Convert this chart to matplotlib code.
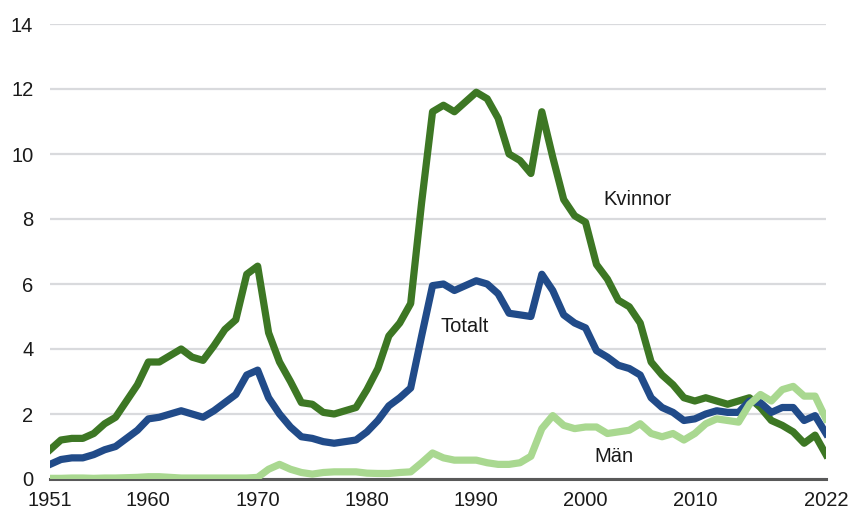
import matplotlib
matplotlib.use('Agg')
import matplotlib.pyplot as plt

# data
years = list(range(1951, 2023))

kvinnor = [0.9, 1.2, 1.25, 1.25, 1.4, 1.7, 1.9, 2.4, 2.9, 3.6,
           3.6, 3.8, 4.0, 3.75, 3.65, 4.1, 4.6, 4.9, 6.3, 6.55,
           4.5, 3.6, 3.0, 2.35, 2.3, 2.05, 2.0, 2.1, 2.2, 2.75,
           3.4, 4.4, 4.8, 5.4, 8.5, 11.3, 11.5, 11.3, 11.6, 11.9,
           11.7, 11.1, 10.0, 9.8, 9.4, 11.3, 9.9, 8.6, 8.1, 7.9,
           6.6, 6.15, 5.5, 5.3, 4.8, 3.6, 3.2, 2.9, 2.5, 2.4,
           2.5, 2.4, 2.3, 2.4, 2.5, 2.2, 1.8, 1.65, 1.45, 1.1,
           1.35, 0.75]

totalt = [0.45, 0.6, 0.65, 0.65, 0.75, 0.9, 1.0, 1.25, 1.5, 1.85,
          1.9, 2.0, 2.1, 2.0, 1.9, 2.1, 2.35, 2.6, 3.2, 3.35,
          2.5, 2.0, 1.6, 1.3, 1.25, 1.15, 1.1, 1.15, 1.2, 1.45,
          1.8, 2.25, 2.5, 2.8, 4.4, 5.95, 6.0, 5.8, 5.95, 6.1,
          6.0, 5.7, 5.1, 5.05, 5.0, 6.3, 5.8, 5.05, 4.8, 4.65,
          3.95, 3.75, 3.5, 3.4, 3.2, 2.5, 2.2, 2.05, 1.8, 1.85,
          2.0, 2.1, 2.05, 2.05, 2.4, 2.35, 2.05, 2.2, 2.2, 1.8,
          1.95, 1.4]

man = [0.02, 0.02, 0.03, 0.03, 0.02, 0.03, 0.03, 0.04, 0.05, 0.07,
       0.07, 0.05, 0.03, 0.03, 0.03, 0.03, 0.03, 0.03, 0.03, 0.05,
       0.3, 0.45, 0.3, 0.2, 0.15, 0.2, 0.22, 0.22, 0.22, 0.18,
       0.17, 0.17, 0.2, 0.22, 0.5, 0.8, 0.65, 0.58, 0.58, 0.58,
       0.5, 0.45, 0.45, 0.5, 0.7, 1.55, 1.95, 1.65, 1.55, 1.6,
       1.6, 1.4, 1.45, 1.5, 1.7, 1.4, 1.3, 1.4, 1.2, 1.4,
       1.7, 1.85, 1.8, 1.75, 2.3, 2.6, 2.4, 2.75, 2.85, 2.55,
       2.55, 1.85]

xticks = [1951, 1960, 1970, 1980, 1990, 2000, 2010, 2022]
yticks = [0, 2, 4, 6, 8, 10, 12, 14]

plt.rcParams['font.family'] = ['Liberation Sans', 'DejaVu Sans']
fs = 14.5

fig = plt.figure(figsize=(8.63, 5.13), dpi=100)
ax = fig.add_axes([50 / 863, 34 / 513, 776 / 863, 455 / 513])

ax.plot(years, kvinnor, color='#3d7724', lw=5.2, solid_joinstyle='round', zorder=3)
ax.plot(years, totalt, color='#214b89', lw=5.2, solid_joinstyle='round', zorder=4)
ax.plot(years, man, color='#a9d890', lw=5.2, solid_joinstyle='round', zorder=5)

ax.text(2001.6, 8.6, 'Kvinnor', fontsize=fs, va='center', ha='left', color='#1a1a1a')
ax.text(1986.7, 4.68, 'Totalt', fontsize=fs, va='center', ha='left', color='#1a1a1a')
ax.text(2000.8, 0.7, 'Män', fontsize=fs, va='center', ha='left', color='#1a1a1a')

ax.set_xlim(1951, 2022)
ax.set_ylim(0, 14)
ax.set_xticks(xticks)
ax.set_yticks(yticks)
ax.tick_params(axis='both', length=0, labelsize=fs, colors='#1a1a1a')
ax.tick_params(axis='y', pad=12)
ax.tick_params(axis='x', pad=9)

ax.grid(axis='y', color='#d9dadd', lw=1.6)
ax.set_axisbelow(True)
for s in ['left', 'right', 'top']:
    ax.spines[s].set_visible(False)
ax.spines['bottom'].set_color('#595959')
ax.spines['bottom'].set_linewidth(2.2)
ax.spines['bottom'].set_zorder(2)

fig.savefig('out.png', dpi=100)
